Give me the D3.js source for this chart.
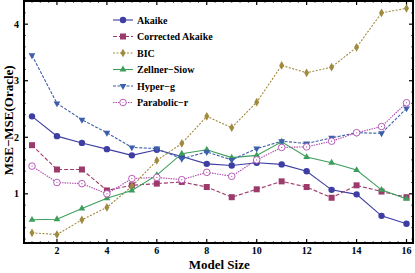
<!DOCTYPE html>
<html>
<head>
<meta charset="utf-8">
<script src="https://cdn.jsdelivr.net/npm/d3@7"></script>
<style>
  body { margin: 0; background: #fff; }
  svg text { font-family: "Liberation Serif", "DejaVu Serif", serif; font-weight: bold; }
</style>
</head>
<body>
<svg id="chart" width="415" height="273"></svg>
<script>
// model sizes 1..16
const sizes = d3.range(1, 17)

const akaike    = [2.37, 2.02, 1.90, 1.79, 1.68, 1.78, 1.66, 1.53, 1.50, 1.55, 1.52, 1.40, 1.07, 0.99, 0.61, 0.47]
const corrAic   = [1.86, 1.43, 1.43, 1.06, 1.15, 1.18, 1.21, 1.12, 0.94, 1.08, 1.22, 1.12, 0.93, 1.15, 1.04, 0.94]
const bic       = [0.31, 0.28, 0.54, 0.76, 1.13, 1.59, 1.89, 2.37, 2.17, 2.62, 3.27, 3.14, 3.24, 3.59, 4.20, 4.28]
const zellner   = [0.54, 0.55, 0.74, 0.92, 1.06, 1.33, 1.71, 1.78, 1.64, 1.68, 1.92, 1.65, 1.55, 1.42, 1.07, 0.91]
const hyperG    = [3.45, 2.60, 2.31, 2.08, 1.82, 1.80, 1.62, 1.74, 1.60, 1.80, 1.93, 1.89, 1.99, 2.08, 2.07, 2.51]
const parabolic = [1.49, 1.20, 1.18, 1.00, 1.27, 1.29, 1.25, 1.38, 1.31, 1.60, 1.82, 1.83, 1.93, 2.08, 2.19, 2.61]

const seriesNames = ['Akaike', 'Corrected Akaike', 'BIC', 'Zellner\u2212Siow', 'Hyper\u2212g', 'Parabolic\u2212r']
const seriesVals  = [akaike, corrAic, bic, zellner, hyperG, parabolic]

const xTicks = [2, 4, 6, 8, 10, 12, 14, 16]
const yTicks = [1, 2, 3, 4]

const colors = ['#3d3da3', '#9c3a6c', '#a08a3e', '#3d9e5c', '#3d5fab', '#b04cb0']
const dashes = [null, '4,2', '2,1.5', null, '3,1.5', '1.5,1']
const markers = ['circle', 'square', 'diamond', 'tri-up', 'tri-down', 'ocircle']

const svg = d3.select('#chart')
const L = 24, R = 413, T = 1, B = 243

const x = d3.scaleLinear().domain([0.68, 16.26]).range([L, R])
const y = d3.scaleLinear().domain([0.13, 4.41]).range([B, T])

// frame
svg.append('rect')
  .attr('x', L).attr('y', T).attr('width', R - L).attr('height', B - T)
  .attr('fill', 'none').attr('stroke', '#000').attr('stroke-width', 2)

// ticks on all four sides, pointing inward
let tickG = svg.append('g').attr('stroke', '#000')
let xMinor = d3.range(1, 16.3, 1 / 3).filter(v => Math.abs(v - Math.round(v / 2) * 2) > 0.01)
let yMinor = d3.range(0.2, 4.41, 0.2).filter(v => Math.abs(v - Math.round(v)) > 0.01)

xTicks.forEach(v => {
  tickG.append('line').attr('x1', x(v)).attr('x2', x(v)).attr('y1', B).attr('y2', B - 4).attr('stroke-width', 1.2)
  tickG.append('line').attr('x1', x(v)).attr('x2', x(v)).attr('y1', T).attr('y2', T + 4).attr('stroke-width', 1.2)
})
xMinor.forEach(v => {
  tickG.append('line').attr('x1', x(v)).attr('x2', x(v)).attr('y1', B).attr('y2', B - 2).attr('stroke-width', 0.6)
  tickG.append('line').attr('x1', x(v)).attr('x2', x(v)).attr('y1', T).attr('y2', T + 2).attr('stroke-width', 0.6)
})
yTicks.forEach(v => {
  tickG.append('line').attr('x1', L).attr('x2', L + 4).attr('y1', y(v)).attr('y2', y(v)).attr('stroke-width', 1.2)
  tickG.append('line').attr('x1', R).attr('x2', R - 4).attr('y1', y(v)).attr('y2', y(v)).attr('stroke-width', 1.2)
})
yMinor.forEach(v => {
  tickG.append('line').attr('x1', L).attr('x2', L + 2).attr('y1', y(v)).attr('y2', y(v)).attr('stroke-width', 0.6)
  tickG.append('line').attr('x1', R).attr('x2', R - 2).attr('y1', y(v)).attr('y2', y(v)).attr('stroke-width', 0.6)
})

// tick labels
svg.append('g').selectAll('text').data(xTicks).enter().append('text')
  .attr('x', d => x(d)).attr('y', 254)
  .attr('text-anchor', 'middle').attr('font-size', 10)
  .text(d => d)
svg.append('g').selectAll('text').data(yTicks).enter().append('text')
  .attr('x', L - 5).attr('y', d => y(d) + 3.5)
  .attr('text-anchor', 'end').attr('font-size', 10)
  .text(d => d)

// axis titles
svg.append('text').attr('x', x(8.5)).attr('y', 269)
  .attr('text-anchor', 'middle').attr('font-size', 13)
  .text('Model Size')
svg.append('text').attr('transform', 'translate(13,' + y(2.3) + ') rotate(-90)')
  .attr('text-anchor', 'middle').attr('font-size', 13)
  .text('MSE\u2212MSE(Oracle)')

function drawMarker(g, type, cx, cy, col) {
  if (type == 'circle') g.append('circle').attr('cx', cx).attr('cy', cy).attr('r', 3.2).attr('fill', col)
  if (type == 'square') g.append('rect').attr('x', cx - 3).attr('y', cy - 3).attr('width', 6).attr('height', 6).attr('fill', col)
  if (type == 'diamond') g.append('path').attr('d', d3.symbol(d3.symbolDiamond, 22)()).attr('transform', `translate(${cx},${cy})`).attr('fill', col)
  if (type == 'tri-up') g.append('path').attr('d', d3.symbol(d3.symbolTriangle, 20)()).attr('transform', `translate(${cx},${cy})`).attr('fill', col)
  if (type == 'tri-down') g.append('path').attr('d', d3.symbol(d3.symbolTriangle, 20)()).attr('transform', `translate(${cx},${cy}) rotate(180)`).attr('fill', col)
  if (type == 'ocircle') {
    g.append('circle').attr('cx', cx).attr('cy', cy).attr('r', 3.3).attr('fill', '#fff').attr('stroke', col).attr('stroke-width', 0.9)
    g.append('circle').attr('cx', cx).attr('cy', cy).attr('r', 0.6).attr('fill', col)
  }
}

const line = d3.line().x((d, i) => x(sizes[i])).y(d => y(d))

seriesVals.forEach((vals, k) => {
  let g = svg.append('g')
  g.append('path').datum(vals)
    .attr('d', line)
    .attr('fill', 'none')
    .attr('stroke', colors[k])
    .attr('stroke-width', 1.1)
    .attr('stroke-dasharray', dashes[k])
  vals.forEach((v, i) => drawMarker(g, markers[k], x(sizes[i]), y(v), colors[k]))
})

// legend
let leg = svg.append('g')
seriesNames.forEach((name, k) => {
  let ly = 20 + k * 16.5
  leg.append('line').attr('x1', 113).attr('x2', 133).attr('y1', ly).attr('y2', ly)
    .attr('stroke', colors[k]).attr('stroke-width', 1.1).attr('stroke-dasharray', dashes[k])
  drawMarker(leg, markers[k], 123, ly, colors[k])
  leg.append('text').attr('x', 137).attr('y', ly + 3.5).attr('font-size', 10).text(name)
})
</script>
</body>
</html>
